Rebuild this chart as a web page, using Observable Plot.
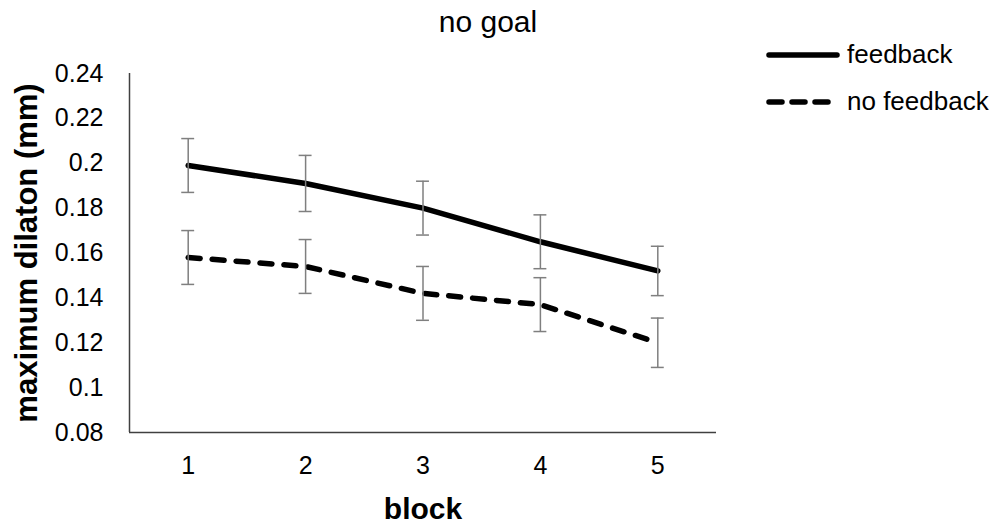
<!DOCTYPE html>
<html>
<head>
<meta charset="utf-8">
<script src="https://cdn.jsdelivr.net/npm/d3@7"></script>
<script src="https://cdn.jsdelivr.net/npm/@observablehq/plot@0.6"></script>
<style>
  html, body { margin: 0; padding: 0; background: #fff; }
  #wrap { position: relative; width: 997px; height: 525px; font-family: "Liberation Sans", Arial, sans-serif; color: #000; }
  #title { position: absolute; left: 388px; width: 200px; top: 3px; text-align: center; font-size: 30px; line-height: 38px; }
  #legend { position: absolute; left: 766px; top: 31px; font-size: 26px; }
  .row { display: flex; align-items: center; height: 47px; }
  .row svg { margin-right: 7px; }
  #chart { position: absolute; left: 0; top: 0; }
</style>
</head>
<body>
<div id="wrap">
  <div id="chart"></div>
  <div id="title"></div>
  <div id="legend"></div>
</div>
<script>
// ---- data ----
const titleText = "no goal";
const xLabel = "block";
const yLabel = "maximum dilaton (mm)";
const blocks = [1, 2, 3, 4, 5];
const xTickLabels = ["1", "2", "3", "4", "5"];
const yTicks = [0.08, 0.10, 0.12, 0.14, 0.16, 0.18, 0.20, 0.22, 0.24];
const yTickLabels = ["0.08", "0.1", "0.12", "0.14", "0.16", "0.18", "0.2", "0.22", "0.24"];
const seriesNames = ["feedback", "no feedback"];
const feedback = [0.199, 0.191, 0.180, 0.165, 0.152];
const feedbackErr = [0.012, 0.0125, 0.012, 0.012, 0.011];
const noFeedback = [0.158, 0.154, 0.142, 0.137, 0.120];
const noFeedbackErr = [0.012, 0.012, 0.012, 0.012, 0.011];

// ---- table built from the arrays ----
const rows = [];
blocks.forEach((b, i) => {
  rows.push({series: seriesNames[0], block: b, value: feedback[i], lo: feedback[i] - feedbackErr[i], hi: feedback[i] + feedbackErr[i]});
  rows.push({series: seriesNames[1], block: b, value: noFeedback[i], lo: noFeedback[i] - noFeedbackErr[i], hi: noFeedback[i] + noFeedbackErr[i]});
});
const fbRows = rows.filter(d => d.series === seriesNames[0]);
const nfRows = rows.filter(d => d.series === seriesNames[1]);

const errColor = "#7f7f7f";
const axisColor = "#404040";
const capHalf = 0.055;

const chart = Plot.plot({
  width: 997,
  height: 525,
  marginLeft: 129,
  marginRight: 281,
  marginTop: 73,
  marginBottom: 93,
  style: {fontFamily: "'Liberation Sans', Arial, sans-serif", fontSize: "25px", color: "#000", background: "#fff"},
  x: {type: "linear", domain: [0.5, 5.5], ticks: blocks, tickFormat: d => xTickLabels[blocks.indexOf(d)], tickSize: 0, tickPadding: 24, label: null},
  y: {domain: [0.08, 0.24], ticks: yTicks, tickFormat: d => yTickLabels[yTicks.indexOf(d)], tickSize: 0, tickPadding: 26, label: null},
  marks: [
    Plot.ruleY([0.08], {stroke: axisColor, strokeWidth: 1.5}),
    Plot.ruleX([0.5], {stroke: axisColor, strokeWidth: 1.5}),
    Plot.line(fbRows, {x: "block", y: "value", stroke: "#000", strokeWidth: 5.5, strokeLinejoin: "round", strokeLinecap: "round"}),
    Plot.line(nfRows, {x: "block", y: "value", stroke: "#000", strokeWidth: 5.5, strokeDasharray: "12,12", strokeLinecap: "round"}),
    Plot.ruleX(rows, {x: "block", y1: "lo", y2: "hi", stroke: errColor, strokeWidth: 1.5}),
    Plot.ruleY(rows, {y: "hi", x1: d => d.block - capHalf, x2: d => d.block + capHalf, stroke: errColor, strokeWidth: 1.5}),
    Plot.ruleY(rows, {y: "lo", x1: d => d.block - capHalf, x2: d => d.block + capHalf, stroke: errColor, strokeWidth: 1.5}),
    Plot.text([xLabel], {text: d => d, frameAnchor: "bottom", dy: 77, textAnchor: "middle", lineAnchor: "middle", fontSize: 30, fontWeight: "bold", fill: "#000"}),
    Plot.text([yLabel], {text: d => d, frameAnchor: "left", dx: -102, rotate: -90, textAnchor: "middle", lineAnchor: "middle", fontSize: 31, fontWeight: "bold", fill: "#000"})
  ]
});
document.getElementById("chart").appendChild(chart);

document.getElementById("title").textContent = titleText;

const legend = document.getElementById("legend");
seriesNames.forEach((name, i) => {
  const row = document.createElement("div");
  row.className = "row";
  const dash = i === 0 ? "" : 'stroke-dasharray="13,10"';
  row.innerHTML = `<svg width="74" height="12"><line x1="3" y1="6" x2="71" y2="6" stroke="#000" stroke-width="5.5" stroke-linecap="round" ${dash}/></svg><span>${name}</span>`;
  legend.appendChild(row);
});
</script>
</body>
</html>
